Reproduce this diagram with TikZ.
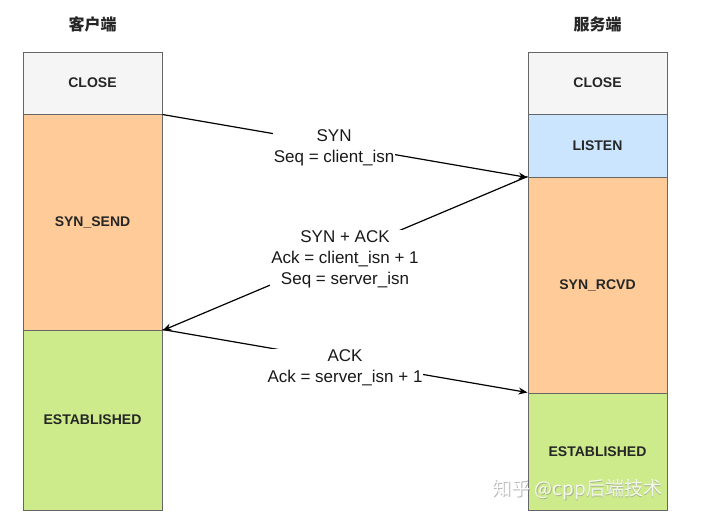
\documentclass[tikz,border=0pt]{standalone}
\usepackage{fontspec}
\setmainfont{Liberation Sans}
\newfontfamily\cjk{Noto Sans CJK SC}
\usetikzlibrary{arrows.meta}
\definecolor{cgray}{HTML}{F5F5F5}
\definecolor{corange}{HTML}{FFCC99}
\definecolor{cblue}{HTML}{CCE5FF}
\definecolor{cgreen}{HTML}{CDEB8B}
\definecolor{cstroke}{HTML}{666666}
\begin{document}
\begin{tikzpicture}[x=1pt,y=-1pt,
  statebox/.style={draw=cstroke, line width=1pt, minimum width=139pt, inner sep=0pt,
    font=\fontsize{14}{17}\selectfont\bfseries, text=black!85},
  title/.style={font=\cjk\fontsize{16}{19}\selectfont\bfseries, text=black!85},
  msg/.style={fill=white, inner sep=1pt, align=center, font=\fontsize{17}{21}\selectfont, text=black!90},
  arr/.style={line width=1.2pt, -{Stealth[length=9pt,width=7pt]}}]
\useasboundingbox (0,0) rectangle (712,531);
% titles
\node[title] (tc) at (92.5,24) {客户端};
\node[title] (ts) at (597.5,24) {服务端};
% client column
\node[statebox, fill=cgray, minimum height=62pt] (cclose) at (92.5,83) {CLOSE};
\node[statebox, fill=corange, minimum height=216pt] (csyn) at (92.5,222) {SYN\_SEND};
\node[statebox, fill=cgreen, minimum height=180pt] (cest) at (92.5,420) {ESTABLISHED};
% server column
\node[statebox, fill=cgray, minimum height=62pt] (sclose) at (597.5,83) {CLOSE};
\node[statebox, fill=cblue, minimum height=63pt] (slisten) at (597.5,145.5) {LISTEN};
\node[statebox, fill=corange, minimum height=216pt] (srcvd) at (597.5,285) {SYN\_RCVD};
\node[statebox, fill=cgreen, minimum height=117pt] (sest) at (597.5,451.5) {ESTABLISHED};
% messages
\draw[arr] (cclose.south east) -- node[msg, pos=0.47, yshift=-4pt] (m1) {SYN\\Seq = client\_isn} (slisten.south west);
\draw[arr] (srcvd.north west) -- node[msg, pos=0.5, yshift=-6pt] (m2) {SYN + ACK\\Ack = client\_isn + 1\\Seq = server\_isn} (csyn.south east);
\draw[arr] (cest.north east) -- node[msg, pos=0.5, yshift=-7pt] (m3) {ACK\\Ack = server\_isn + 1} (sest.north west);
% watermark
\node[font=\cjk\fontsize{19}{22}\selectfont, text=black!45, opacity=0.6] (wm0) at (578,490.8) {知乎 @cpp后端技术};
\node[font=\cjk\fontsize{19}{22}\selectfont, text=white, opacity=0.85] (wm) at (577.4,490) {知乎 @cpp后端技术};
\end{tikzpicture}
\end{document}
